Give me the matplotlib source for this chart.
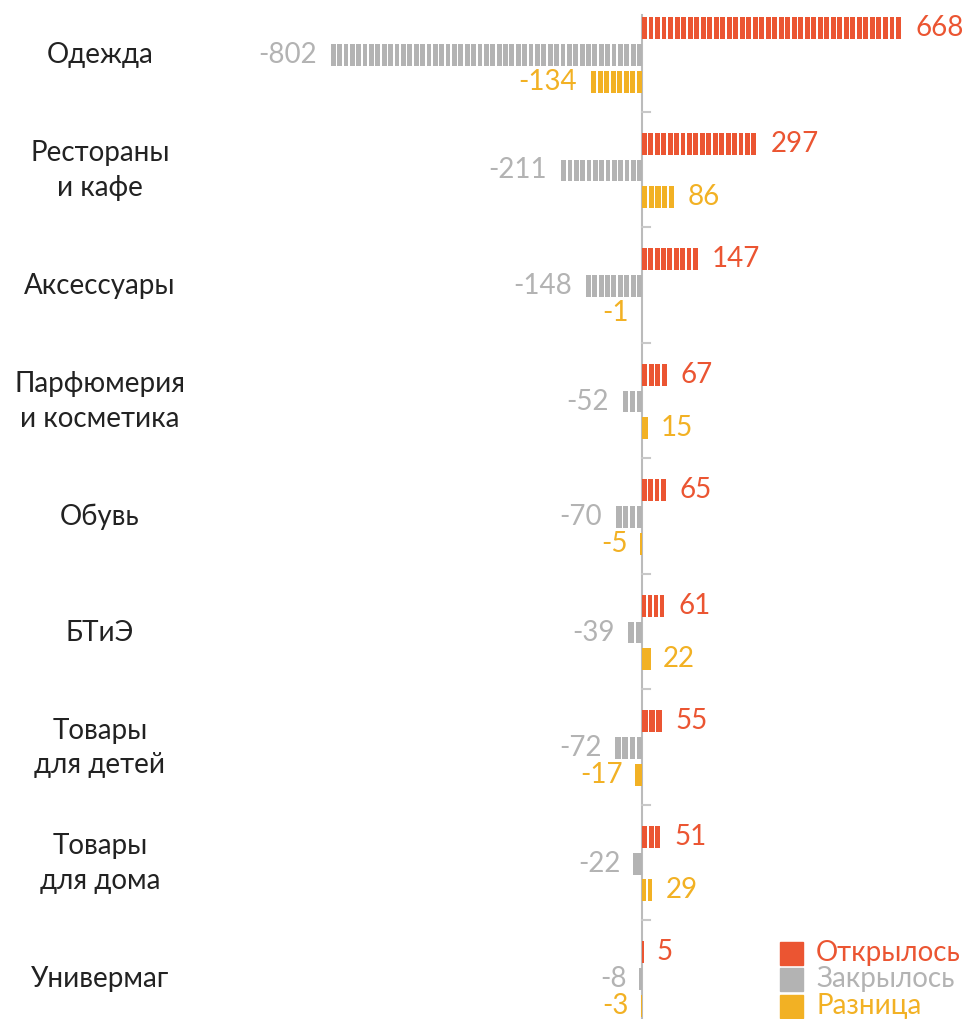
import matplotlib.pyplot as plt
import numpy as np

plt.rcParams['font.family'] = ['Lato', 'DejaVu Sans']

categories = ['Одежда', 'Рестораны\nи кафе', 'Аксессуары', 'Парфюмерия\nи косметика',
              'Обувь', 'БТиЭ', 'Товары\nдля детей', 'Товары\nдля дома', 'Универмаг']
opened = [668, 297, 147, 67, 65, 61, 55, 51, 5]
closed = [-802, -211, -148, -52, -70, -39, -72, -22, -8]
diff = [-134, 86, -1, 15, -5, 22, -17, 29, -3]

series_names = ['Открылось', 'Закрылось', 'Разница']
colors = ['#EB5532', '#B3B3B3', '#F2B124']
text_dark = '#222222'

fig = plt.figure(figsize=(9.63, 10.19), dpi=100)
ax = fig.add_axes([0, 0, 1, 1])
ax.set_xlim(-1646, 823)
ax.set_ylim(8.346, -0.476)
ax.axis('off')

step, gap = 16.5, 4.0
bar_h = 0.19
offsets = [-0.23, 0.0, 0.23]
fs = 20


def striped_bar(y, value, color):
    # bar split into equal thin vertical stripes
    sign = 1 if value >= 0 else -1
    a = abs(value)
    n = max(1, int(round(a / step)))
    seg = a / n
    w = seg - gap if n > 1 else a
    starts = np.arange(n) * seg
    ax.barh([y] * n, sign * np.full(n, w), left=sign * starts,
            height=bar_h, color=color, lw=0)


for i, cat in enumerate(categories):
    for k, vals in enumerate([opened, closed, diff]):
        v = vals[i]
        y = i + offsets[k]
        striped_bar(y, v, colors[k])
        if v >= 0:
            ax.annotate(str(v), (v, y), xytext=(9, 0), textcoords='offset points',
                        ha='left', va='center', fontsize=fs, color=colors[k])
        else:
            ax.annotate(str(v), (v, y), xytext=(-9, 0), textcoords='offset points',
                        ha='right', va='center', fontsize=fs, color=colors[k])
    ax.text(-1390, i, cat, ha='center', va='center', fontsize=fs,
            color=text_dark, linespacing=1.4)

# axis line and group separators
ax.plot([0, 0], [-0.35, 8.4], color='#BBBBBB', lw=1.5, zorder=0)
for i in range(len(categories) - 1):
    ax.plot([0, 20], [i + 0.49, i + 0.49], color='#C8C8C8', lw=1.5)

# legend
for k, name in enumerate(series_names):
    fig.patches.append(plt.Rectangle((780 / 963, 1 - (953 + k * 26.5 + 11.5) / 1019),
                                     23 / 963, 23 / 1019, color=colors[k],
                                     transform=fig.transFigure))
    fig.text(816 / 963, 1 - (953 + k * 26.5) / 1019, name, ha='left', va='center',
             fontsize=fs, color=colors[k])

fig.savefig('out.png', dpi=100)
